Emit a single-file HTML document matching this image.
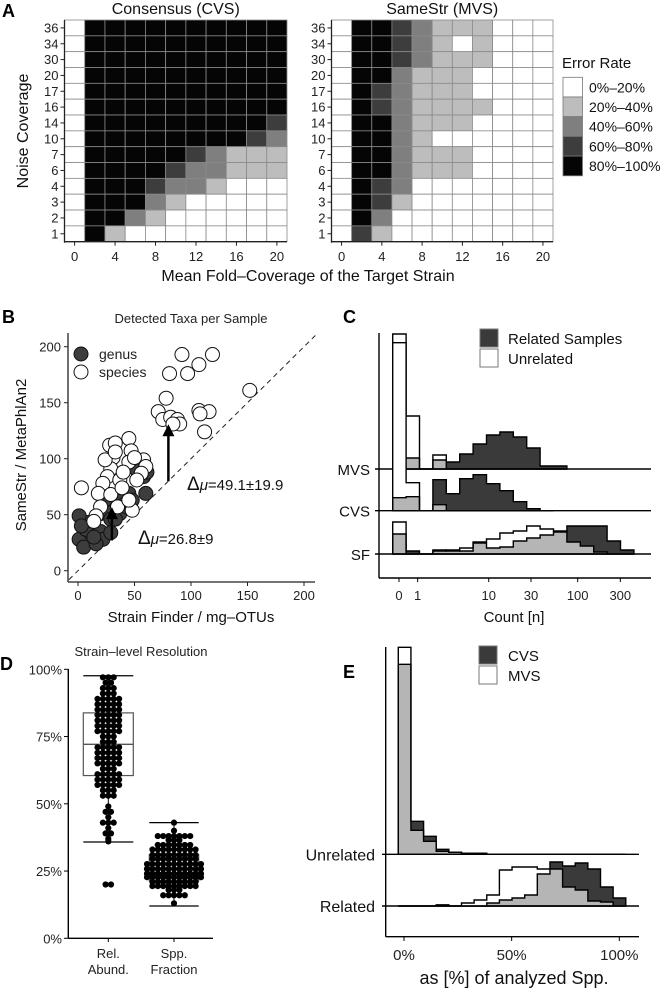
<!DOCTYPE html>
<html><head><meta charset="utf-8">
<style>
html,body{margin:0;padding:0;background:#fff;}
svg{display:block;font-family:"Liberation Sans",Arial,sans-serif;}
</style></head>
<body>
<svg id="fig" width="669" height="991" viewBox="0 0 669 991" xmlns="http://www.w3.org/2000/svg">
<g id="pA"></g>
<g id="pB"></g>
<g id="pC"></g>
<g id="pD"></g>
<g id="pE"></g>
</svg>
<script>
// ---------- Panel A data ----------
const noiseRows = ["36","34","30","20","17","16","14","10","7","6","4","3","2","1"];
const coverageCols = [0,2,4,6,8,10,12,14,16,18,20];
const coverageTicks = [0,4,8,12,16,20];
const errorLevels = ["0%\u201320%","20%\u201340%","40%\u201360%","60%\u201380%","80%\u2013100%"];
const cvsGrid = [
[0,4,4,4,4,4,4,4,4,4,4],[0,4,4,4,4,4,4,4,4,4,4],[0,4,4,4,4,4,4,4,4,4,4],
[0,4,4,4,4,4,4,4,4,4,4],[0,4,4,4,4,4,4,4,4,4,4],[0,4,4,4,4,4,4,4,4,4,4],
[0,4,4,4,4,4,4,4,4,4,3],[0,4,4,4,4,4,4,4,4,3,2],[0,4,4,4,4,4,3,2,1,1,1],
[0,4,4,4,4,3,2,2,1,1,1],[0,4,4,4,3,2,2,1,0,0,0],[0,4,4,4,2,1,0,0,0,0,0],
[0,4,4,2,1,0,0,0,0,0,0],[0,4,1,0,0,0,0,0,0,0,0]];
const mvsGrid = [
[0,4,4,3,2,1,1,1,0,0,0],[0,4,4,3,2,1,0,1,0,0,0],[0,4,4,3,2,1,1,1,0,0,0],
[0,4,4,2,1,1,1,0,0,0,0],[0,4,3,2,1,1,1,0,0,0,0],[0,4,3,2,1,1,1,1,0,0,0],
[0,4,4,2,1,1,1,0,0,0,0],[0,4,4,2,1,0,0,0,0,0,0],[0,4,4,2,1,1,1,0,0,0,0],
[0,4,4,2,1,1,1,0,0,0,0],[0,4,3,2,0,0,0,0,0,0,0],[0,4,3,1,0,0,0,0,0,0,0],
[0,4,2,0,0,0,0,0,0,0,0],[0,3,1,0,0,0,0,0,0,0,0]];
// ---------- Panel B data ----------
const speciesX = [92,119,107,97,81,78,152,107,116,108,112,71,75,82,88,90,84,3,28,33,45,47,31,45,58,60,56,29,26,37,22,18,29,39,20,35,48,45,16,52,24,33,50,14,40];
const speciesY = [193,193,184,176,176,154,161,143,142,140,124,142,135,137,135,131,131,74,112,114,118,107,101,97,99,93,87,91,84,81,78,69,68,74,57,57,54,63,49,81,99,106,101,44,88];
const genusX = [1,5,11,9,1,12,20,22,16,20,27,29,37,43,45,39,60,58,61,52,48,24,33,7,29,3,14,42];
const genusY = [28,21,34,43,49,40,35,28,24,51,54,46,51,57,69,63,69,84,88,90,63,63,46,37,34,40,30,60];
const bTicks = [0,50,100,150,200];
// ---------- Panel C data ----------
const cTickVals = [0,1,10,30,100,300];
const cGroups = ["MVS","CVS","SF"];
const cUnrelated = [
[135,53,0,14,0,0,0,0,0,0,0,0,0],
[168,28,0,6,0,0,0,0,0,0,0,0],
[32,0,0,4,3,6,12,15,21,23,28,25,23,12,8,2,0,0]];
const cRelated = [
[11,11,0,9,7,15,25,34,37,32,21,3,3],
[13,14,0,31,17,32,36,27,20,9,2,0],
[20,3,0,3,4,3,11,6,7,13,16,19,22,28,28,28,13,4]];
// ---------- Panel D data ----------
const dCategories = ["Rel. Abund.","Spp. Fraction"];
const relVals = [97,95,93,91,89,87,85,83,81,79,77,75,73,71,69,67,65,63,61,59,57,55,53,49,47,45,43,41,39,37,36,20];
const relCounts = [3,2,3,3,5,5,5,5,5,5,5,3,3,5,5,5,5,3,5,5,5,3,3,1,2,1,3,1,2,1,1,2];
const sppVals = [43,40,38,36.5,34.7,33,31,29.5,27.6,25.8,24,22.7,21,19.4,18,16,13];
const sppCounts = [1,1,7,3,7,9,9,9,11,11,11,11,9,9,3,5,1];
const relBox = [35.8,60.5,72.1,83.8,97.6];
const sppBox = [12,21.3,24.3,31,43];
const dTicks = [0,25,50,75,100];
// ---------- Panel E data ----------
const eTicks = [0,50,100];
const eGroups = ["Unrelated","Related"];
const eCVS = [
[190,33,18,5,2,1,1,0,0,0,0,0,0,0,0,0,0,0],
[0,0,0,1,0,0,0,3,6,8,11,32,44,40,43,37,19,8]];
const eMVS = [
[207,24,13,3,2,1,1,0,0,0,0,0,0,0,0,0,0,0],
[0,0,0,1,0,3,6,11,36,39,39,37,37,19,16,5,4,0]];

const NS="http://www.w3.org/2000/svg";
function mk(parent,tag,attrs,text){const e=document.createElementNS(NS,tag);for(const k in attrs)e.setAttribute(k,attrs[k]);if(text!==undefined)e.textContent=text;parent.appendChild(e);return e;}
const FILLS=["#ffffff","#bdbdbd","#7f7f7f","#3d3d3d","#050505"];

// ===== Panel A =====
(function(){
const g=document.getElementById('pA');
let t=mk(g,'text',{x:2,y:17,'font-size':18,'font-weight':'bold'},'A');

const top=20,bottom=241.7,rowH=(bottom-top)/noiseRows.length;
function drawHeat(grid,left,right,title,name){
  const hg=mk(g,'g',{});
  
  const cw=(right-left)/coverageCols.length;
  const xs=v=>left+(coverageCols.indexOf(v)+0.5)*cw;
  grid.forEach((row,r)=>row.forEach((lv,c)=>{
    const rc=mk(hg,'rect',{x:left+c*cw,y:top+r*rowH,width:cw,height:rowH,fill:FILLS[lv],stroke:'#8a8a8a','stroke-width':0.8});
    
  }));
  mk(hg,'line',{x1:left,y1:top,x2:left,y2:bottom+1,stroke:'#222','stroke-width':1.3});
  mk(hg,'line',{x1:left,y1:bottom,x2:right,y2:bottom,stroke:'#222','stroke-width':1.3});
  noiseRows.forEach((lab,r)=>{const y=top+(r+0.5)*rowH;
    mk(hg,'line',{x1:left-4,y1:y,x2:left,y2:y,stroke:'#222'});
    const tt=mk(hg,'text',{x:left-6,y:y+4.5,'font-size':13,'text-anchor':'end',fill:'#222'},lab);
    });
  coverageTicks.forEach(v=>{const x=xs(v);
    mk(hg,'line',{x1:x,y1:bottom,x2:x,y2:bottom+4,stroke:'#222'});
    const tt=mk(hg,'text',{x:x,y:261,'font-size':13,'text-anchor':'middle',fill:'#222'},String(v));
    });
  const ti=mk(hg,'text',{x:(left+right)/2,y:14,'font-size':16,'text-anchor':'middle',fill:'#111'},title);
  
}
drawHeat(cvsGrid,64.5,287,'Consensus (CVS)','heatmap-cvs');
drawHeat(mvsGrid,331.5,553,'SameStr (MVS)','heatmap-mvs');
t=mk(g,'text',{x:308,y:281,'font-size':16,'text-anchor':'middle',fill:'#111'},'Mean Fold\u2013Coverage of the Target Strain');

t=mk(g,'text',{x:0,y:0,'font-size':16,'text-anchor':'middle',fill:'#111',transform:'translate(28,131) rotate(-90)'},'Noise Coverage');

const lg=mk(g,'g',{});
mk(lg,'text',{x:562,y:68,'font-size':15,fill:'#111'},'Error Rate');
errorLevels.forEach((lab,i)=>{
  const r=mk(lg,'rect',{x:563,y:77.3+i*19.7,width:19.5,height:19.7,fill:FILLS[i],stroke:'#777','stroke-width':0.8});
  
  const tt=mk(lg,'text',{x:589,y:77.3+i*19.7+15,'font-size':14,fill:'#111'},lab);
  
});
})();

// ===== Panel B =====
(function(){
const g=document.getElementById('pB');
const X=v=>78+v*1.13, Y=v=>570.7-v*1.12;
let t=mk(g,'text',{x:2,y:323,'font-size':18,'font-weight':'bold'},'B');

t=mk(g,'text',{x:191,y:323,'font-size':13,'text-anchor':'middle',fill:'#222'},'Detected Taxa per Sample');

mk(g,'line',{x1:68,y1:333,x2:68,y2:582,stroke:'#222','stroke-width':1.3});
mk(g,'line',{x1:68,y1:582,x2:315,y2:582,stroke:'#222','stroke-width':1.3});
bTicks.forEach(v=>{
  mk(g,'line',{x1:64,y1:Y(v),x2:68,y2:Y(v),stroke:'#222'});
  let a=mk(g,'text',{x:61,y:Y(v)+5,'font-size':13,'text-anchor':'end',fill:'#222'},String(v));
  
  mk(g,'line',{x1:X(v),y1:582,x2:X(v),y2:586,stroke:'#222'});
  a=mk(g,'text',{x:X(v),y:600,'font-size':13,'text-anchor':'middle',fill:'#222'},String(v));
  
});
const dl=mk(g,'line',{x1:X(-8),y1:Y(-8),x2:X(210),y2:Y(210),stroke:'#222','stroke-dasharray':'5,4','stroke-width':1});

genusX.forEach((v,i)=>{const c=mk(g,'circle',{cx:X(v),cy:Y(genusY[i]),r:7,fill:'#3d3d3d',stroke:'#111','stroke-width':1});
  });
speciesX.forEach((v,i)=>{const c=mk(g,'circle',{cx:X(v),cy:Y(speciesY[i]),r:7,fill:'#fff',stroke:'#111','stroke-width':1});
  });
function arrow(x,y0,y1,name){const a=mk(g,'g',{});
  mk(a,'line',{x1:X(x),y1:Y(y0),x2:X(x),y2:Y(y1)+8,stroke:'#000','stroke-width':2.5});
  mk(a,'polygon',{points:`${X(x)-6},${Y(y1)+10} ${X(x)+6},${Y(y1)+10} ${X(x)},${Y(y1)-2}`,fill:'#000'});}
arrow(80,80,129,'species-arrow');arrow(30,27,55,'genus-arrow');
t=mk(g,'text',{x:187,y:490,'font-size':15,fill:'#111'});t.innerHTML='<tspan font-size="19">\u0394</tspan><tspan font-style="italic">\u03bc</tspan>=49.1\u00b119.9';

t=mk(g,'text',{x:138,y:544,'font-size':15,fill:'#111'});t.innerHTML='<tspan font-size="19">\u0394</tspan><tspan font-style="italic">\u03bc</tspan>=26.8\u00b19';

const lg=mk(g,'g',{});
mk(lg,'circle',{cx:81,cy:354,r:7,fill:'#3d3d3d',stroke:'#111'});
mk(lg,'text',{x:99,y:359,'font-size':14,fill:'#222'},'genus');
mk(lg,'circle',{cx:81,cy:372,r:7,fill:'#fff',stroke:'#111'});
mk(lg,'text',{x:99,y:377,'font-size':14,fill:'#222'},'species');
t=mk(g,'text',{x:191,y:622,'font-size':15,'text-anchor':'middle',fill:'#111'},'Strain Finder / mg\u2013OTUs');

t=mk(g,'text',{x:0,y:0,'font-size':15,'text-anchor':'middle',fill:'#111',transform:'translate(26,455) rotate(-90)'},'SameStr / MetaPhlAn2');

})();

function stepPath(vals,edge,base,scale){
  let d=`M${edge(0)},${base}`;
  vals.forEach((v,i)=>{d+=` L${edge(i)},${base-v*scale} L${edge(i+1)},${base-v*scale}`;});
  d+=` L${edge(vals.length)},${base} Z`;return d;}
function drawRidge(g,aVals,bVals,edge,base,scale,aFill,bFill,name){
  const r=mk(g,'g',{});
  const n=Math.max(aVals.length,bVals.length);
  const a=[],b=[],m=[];for(let i=0;i<n;i++){a.push(aVals[i]||0);b.push(bVals[i]||0);m.push(Math.min(a[i],b[i]));}
  mk(r,'path',{d:stepPath(a,edge,base,scale),fill:aFill,stroke:'none'});
  mk(r,'path',{d:stepPath(b,edge,base,scale),fill:bFill,stroke:'none'});
  mk(r,'path',{d:stepPath(m,edge,base,scale),fill:'#b5b5b5',stroke:'none'});
  mk(r,'path',{d:stepPath(a,edge,base,scale),fill:'none',stroke:'#000','stroke-width':1.4});
  mk(r,'path',{d:stepPath(b,edge,base,scale),fill:'none',stroke:'#000','stroke-width':1.4});
}

// ===== Panel C =====
(function(){
const g=document.getElementById('pC');
const X=v=>399+38.8*Math.asinh(v/2);
const binW=13.4, edge=i=>392.7+i*binW;
const bases=[469,510.7,554];
let t=mk(g,'text',{x:343,y:323,'font-size':18,'font-weight':'bold'},'C');

cGroups.forEach((name,k)=>{
  mk(g,'line',{x1:375,y1:bases[k],x2:651,y2:bases[k],stroke:'#000','stroke-width':1.4});
});
cGroups.forEach((name,k)=>{
  drawRidge(g,cUnrelated[k],cRelated[k],edge,bases[k],1,'#ffffff','#3a3a3a','ridge-'+name.toLowerCase());
  const tt=mk(g,'text',{x:370,y:bases[k]+6,'font-size':15,'text-anchor':'end',fill:'#111'},name);
  
});
mk(g,'line',{x1:379,y1:333,x2:379,y2:578,stroke:'#000','stroke-width':1.4});
mk(g,'line',{x1:379,y1:578,x2:651,y2:578,stroke:'#000','stroke-width':1.4});
cTickVals.forEach(v=>{const x=X(v);
  mk(g,'line',{x1:x,y1:578,x2:x,y2:582,stroke:'#000'});
  const tt=mk(g,'text',{x:x,y:600,'font-size':13,'text-anchor':'middle',fill:'#222'},String(v));
  });
t=mk(g,'text',{x:514,y:622,'font-size':15,'text-anchor':'middle',fill:'#111'},'Count [n]');

const lg=mk(g,'g',{});
mk(lg,'rect',{x:480,y:329,width:18,height:18,fill:'#3a3a3a',stroke:'#777'});
mk(lg,'text',{x:508,y:344,'font-size':15,fill:'#111'},'Related Samples');
mk(lg,'rect',{x:480,y:349,width:18,height:18,fill:'#fff',stroke:'#777'});
mk(lg,'text',{x:508,y:364,'font-size':15,fill:'#111'},'Unrelated');
})();

// ===== Panel D =====
(function(){
const g=document.getElementById('pD');
const Y=v=>938.3-v*2.69;
const cx=[108.3,174];
let t=mk(g,'text',{x:0,y:670,'font-size':18,'font-weight':'bold'},'D');

t=mk(g,'text',{x:141,y:656,'font-size':13,'text-anchor':'middle',fill:'#222'},'Strain\u2013level Resolution');

mk(g,'line',{x1:68.3,y1:669,x2:68.3,y2:938.3,stroke:'#000','stroke-width':1.4});
mk(g,'line',{x1:68.3,y1:938.3,x2:213,y2:938.3,stroke:'#000','stroke-width':1.4});
dTicks.forEach(v=>{mk(g,'line',{x1:64,y1:Y(v),x2:68.3,y2:Y(v),stroke:'#000'});
  const tt=mk(g,'text',{x:62,y:Y(v)+5,'font-size':13,'text-anchor':'end',fill:'#222'},v+'%');
  });
function box(b,c,w,name){const bg=mk(g,'g',{});
  mk(bg,'line',{x1:c,y1:Y(b[0]),x2:c,y2:Y(b[4]),stroke:'#000'});
  mk(bg,'line',{x1:c-w/2,y1:Y(b[0]),x2:c+w/2,y2:Y(b[0]),stroke:'#000','stroke-width':1.3});
  mk(bg,'line',{x1:c-w/2,y1:Y(b[4]),x2:c+w/2,y2:Y(b[4]),stroke:'#000','stroke-width':1.3});
  mk(bg,'rect',{x:c-w/2,y:Y(b[3]),width:w,height:Y(b[1])-Y(b[3]),fill:'#fff',stroke:'#555','stroke-width':1.2});
  mk(bg,'line',{x1:c-w/2,y1:Y(b[2]),x2:c+w/2,y2:Y(b[2]),stroke:'#555','stroke-width':1.4});}
box(relBox,cx[0],50,'box-rel-abund');box(sppBox,cx[1],49.4,'box-spp-fraction');
function dots(vals,counts,c,name){vals.forEach((v,i)=>{const n=counts[i];for(let j=0;j<n;j++){
  const d=mk(g,'circle',{cx:c+(j-(n-1)/2)*5.4,cy:Y(v),r:3.1,fill:'#000'});
  }});}
dots(relVals,relCounts,cx[0],'rel-abund-dot');dots(sppVals,sppCounts,cx[1],'spp-fraction-dot');
const lines=[["Rel.","Abund."],["Spp.","Fraction"]];
dCategories.forEach((c,i)=>{mk(g,'line',{x1:cx[i],y1:938.3,x2:cx[i],y2:942,stroke:'#000'});
  const tt=mk(g,'text',{x:cx[i],y:958,'font-size':13,'text-anchor':'middle',fill:'#222'});
  tt.innerHTML=`<tspan x="${cx[i]}">${lines[i][0]}</tspan><tspan x="${cx[i]}" dy="16">${lines[i][1]}</tspan>`;
  });
})();

// ===== Panel E =====
(function(){
const g=document.getElementById('pE');
const X=v=>404+v*2.153;
const binW=5.87, edge=i=>X(-2.65+i*binW);
const bases=[854.3,906];
let t=mk(g,'text',{x:343,y:678,'font-size':18,'font-weight':'bold'},'E');

eGroups.forEach((n,k)=>mk(g,'line',{x1:382,y1:bases[k],x2:639,y2:bases[k],stroke:'#000','stroke-width':1.4}));
eGroups.forEach((n,k)=>{
  drawRidge(g,eMVS[k],eCVS[k],edge,bases[k],1,'#ffffff','#3a3a3a','ridge-'+n.toLowerCase());
  const tt=mk(g,'text',{x:375,y:bases[k]+6,'font-size':16,'text-anchor':'end',fill:'#111'},n);
  
});
mk(g,'line',{x1:385.7,y1:647,x2:385.7,y2:936.7,stroke:'#000','stroke-width':1.4});
mk(g,'line',{x1:385.7,y1:936.7,x2:639,y2:936.7,stroke:'#000','stroke-width':1.4});
eTicks.forEach(v=>{const x=X(v);mk(g,'line',{x1:x,y1:936.7,x2:x,y2:941,stroke:'#000'});
  const tt=mk(g,'text',{x:x,y:960,'font-size':15,'text-anchor':'middle',fill:'#222'},v+'%');
  });
t=mk(g,'text',{x:514,y:984,'font-size':18,'text-anchor':'middle',fill:'#111'},'as [%] of analyzed Spp.');

const lg=mk(g,'g',{});
mk(lg,'rect',{x:479,y:646,width:18,height:18,fill:'#3a3a3a',stroke:'#777'});
mk(lg,'text',{x:508,y:661,'font-size':15,fill:'#111'},'CVS');
mk(lg,'rect',{x:479,y:666,width:18,height:18,fill:'#fff',stroke:'#777'});
mk(lg,'text',{x:508,y:681,'font-size':15,fill:'#111'},'MVS');
})();
</script>
</body></html>
